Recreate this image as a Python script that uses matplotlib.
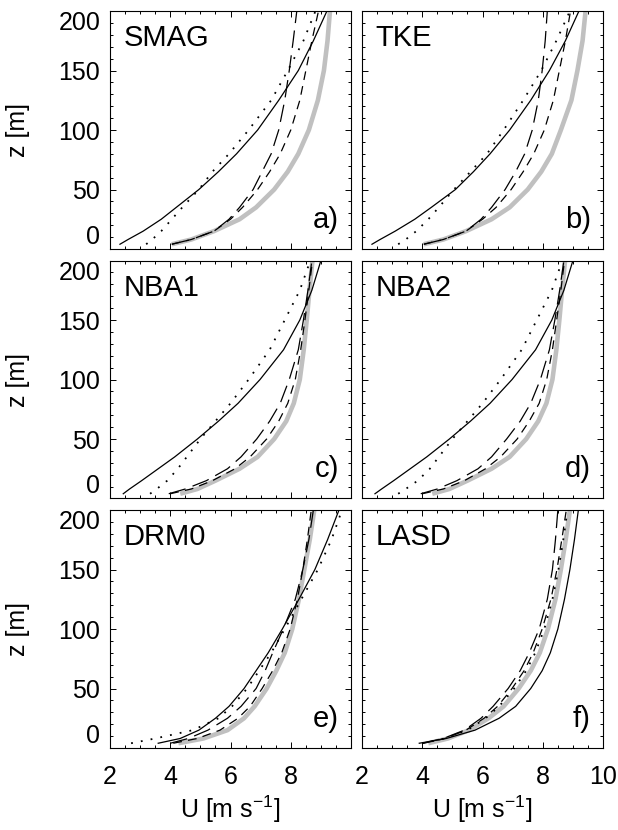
import numpy as np
import matplotlib
matplotlib.use("Agg")
from matplotlib import pyplot as plt

plt.rcParams['font.family'] = ['Liberation Sans', 'DejaVu Sans']
plt.rcParams['mathtext.fontset'] = 'custom'
plt.rcParams['mathtext.rm'] = 'Liberation Sans'

# 高度 (m)
z = [4, 8, 15, 25, 35, 50, 65, 80, 100, 125, 150, 175, 200]

# a) SMAG
smag_gray = [4.05, 4.7, 5.45, 6.3, 6.85, 7.45, 7.9, 8.25, 8.6, 8.9, 9.1, 9.22, 9.3]
smag_solid = [2.33, 2.6, 3.1, 3.7, 4.2, 4.95, 5.6, 6.2, 6.9, 7.6, 8.25, 8.75, 9.2]
smag_dot = [3.2, 3.4, 3.7, 4.05, 4.4, 4.95, 5.4, 5.95, 6.6, 7.35, 7.9, 8.42, 8.82]
smag_dash1 = [4.05, 4.7, 5.45, 5.95, 6.3, 6.75, 7.05, 7.35, 7.6, 7.8, 7.95, 8.08, 8.2]
smag_dash2 = [4.05, 4.7, 5.45, 6.0, 6.4, 6.9, 7.3, 7.65, 8.0, 8.3, 8.5, 8.7, 8.92]

# b) TKE
tke_gray = [4.05, 4.7, 5.45, 6.3, 6.9, 7.5, 7.95, 8.3, 8.6, 8.95, 9.15, 9.32, 9.42]
tke_solid = [2.33, 2.6, 3.1, 3.75, 4.3, 5.1, 5.7, 6.25, 6.9, 7.6, 8.22, 8.75, 9.2]
tke_dot = [3.2, 3.45, 3.8, 4.2, 4.55, 5.05, 5.6, 6.15, 6.7, 7.35, 7.95, 8.45, 8.9]
tke_dash1 = [4.05, 4.7, 5.45, 5.95, 6.3, 6.75, 7.1, 7.4, 7.65, 7.85, 7.98, 8.08, 8.15]
tke_dash2 = [4.05, 4.7, 5.45, 6.0, 6.45, 6.95, 7.35, 7.7, 8.05, 8.35, 8.55, 8.75, 8.92]

# c) NBA1
nba1_gray = [4.33, 4.9, 5.5, 6.3, 6.9, 7.45, 7.85, 8.1, 8.3, 8.43, 8.53, 8.62, 8.72]
nba1_solid = [2.44, 2.65, 3.05, 3.6, 4.15, 4.9, 5.6, 6.25, 6.98, 7.76, 8.3, 8.7, 9.0]
nba1_dot = [3.33, 3.55, 3.9, 4.25, 4.55, 5.0, 5.5, 6.0, 6.6, 7.3, 7.8, 8.3, 8.65]
nba1_dash1 = [3.95, 4.5, 5.2, 5.9, 6.35, 6.87, 7.3, 7.65, 7.95, 8.25, 8.42, 8.57, 8.7]
nba1_dash2 = [4.0, 4.7, 5.4, 6.15, 6.65, 7.2, 7.6, 7.9, 8.15, 8.33, 8.47, 8.6, 8.72]

# d) NBA2
nba2_gray = [4.33, 4.9, 5.5, 6.3, 6.9, 7.45, 7.85, 8.12, 8.32, 8.45, 8.55, 8.64, 8.74]
nba2_solid = [2.43, 2.65, 3.05, 3.6, 4.15, 4.9, 5.6, 6.25, 6.98, 7.76, 8.3, 8.7, 9.0]
nba2_dot = [3.2, 3.45, 3.85, 4.25, 4.55, 5.0, 5.5, 6.0, 6.6, 7.3, 7.8, 8.3, 8.65]
nba2_dash1 = [3.95, 4.5, 5.15, 5.85, 6.3, 6.8, 7.25, 7.6, 7.92, 8.22, 8.4, 8.56, 8.7]
nba2_dash2 = [4.0, 4.7, 5.4, 6.1, 6.6, 7.15, 7.55, 7.88, 8.13, 8.32, 8.46, 8.6, 8.72]

# e) DRM0
drm0_gray = [4.27, 5.1, 5.9, 6.45, 6.8, 7.2, 7.52, 7.8, 8.05, 8.27, 8.45, 8.63, 8.78]
drm0_solid = [3.6, 4.33, 4.95, 5.5, 5.95, 6.45, 6.85, 7.25, 7.72, 8.27, 8.8, 9.22, 9.6]
drm0_dot = [2.7, 3.5, 4.75, 5.6, 6.05, 6.55, 6.95, 7.35, 7.8, 8.35, 8.9, 9.35, 9.7]
drm0_dash1 = [4.0, 4.6, 5.25, 5.9, 6.35, 6.85, 7.15, 7.4, 7.75, 8.15, 8.4, 8.6, 8.75]
drm0_dash2 = [4.1, 4.9, 5.65, 6.25, 6.65, 7.05, 7.4, 7.7, 7.98, 8.22, 8.4, 8.55, 8.68]

# f) LASD
lasd_gray = [4.2, 4.85, 5.55, 6.2, 6.7, 7.2, 7.6, 7.9, 8.17, 8.42, 8.6, 8.76, 8.9]
lasd_solid = [3.9, 4.8, 5.75, 6.55, 7.1, 7.6, 7.98, 8.25, 8.5, 8.72, 8.9, 9.05, 9.18]
lasd_dot = [4.0, 4.75, 5.5, 6.1, 6.55, 7.05, 7.45, 7.75, 8.05, 8.32, 8.52, 8.68, 8.82]
lasd_dash1 = [4.0, 4.7, 5.4, 5.95, 6.35, 6.85, 7.25, 7.55, 7.88, 8.15, 8.32, 8.42, 8.5]
lasd_dash2 = [4.05, 4.75, 5.45, 6.05, 6.5, 6.98, 7.38, 7.68, 7.98, 8.27, 8.47, 8.63, 8.78]

names = ['SMAG', 'TKE', 'NBA1', 'NBA2', 'DRM0', 'LASD']
letters = ['a)', 'b)', 'c)', 'd)', 'e)', 'f)']
panels = [
    (smag_gray, smag_solid, smag_dot, smag_dash1, smag_dash2),
    (tke_gray, tke_solid, tke_dot, tke_dash1, tke_dash2),
    (nba1_gray, nba1_solid, nba1_dot, nba1_dash1, nba1_dash2),
    (nba2_gray, nba2_solid, nba2_dot, nba2_dash1, nba2_dash2),
    (drm0_gray, drm0_solid, drm0_dot, drm0_dash1, drm0_dash2),
    (lasd_gray, lasd_solid, lasd_dot, lasd_dash1, lasd_dash2),
]

fig = plt.figure(figsize=(6.18, 8.30), dpi=100)

lefts = [0.178, 0.5858]
bottoms = [0.70, 0.3994, 0.0988]
w, h = 0.39, 0.2867

for i in range(6):
    row, col = i // 2, i % 2
    ax = fig.add_axes([lefts[col], bottoms[row], w, h])
    gray, solid, dot, dash1, dash2 = panels[i]

    ax.plot(gray, z, color='#c0c0c0', lw=3.3, solid_capstyle='butt')
    ax.plot(solid, z, color='black', lw=0.9)
    ax.plot(dot, z, color='black', lw=1.3, dashes=(1, 4.5))
    ax.plot(dash1, z, color='black', lw=0.9, dashes=(14, 6))
    ax.plot(dash2, z, color='black', lw=0.9, dashes=(7, 5))

    ax.set_xlim(2, 10)
    ax.set_ylim(0, 200)
    ax.set_xticks([2, 4, 6, 8, 10])
    ax.set_xticks(np.arange(2, 10.01, 0.5), minor=True)
    ax.set_yticks([0, 50, 100, 150, 200])
    ax.set_yticks(np.arange(0, 201, 10), minor=True)
    ax.tick_params(which='both', direction='in', top=True, right=True,
                   width=0.7, labelsize=18)
    ax.tick_params(which='major', length=4)
    ax.tick_params(which='minor', length=2)
    ax.tick_params(axis='x', pad=12)
    ax.tick_params(axis='y', pad=7)
    for s in ax.spines.values():
        s.set_linewidth(0.8)

    if row < 2:
        ax.set_xticklabels([])
    else:
        if col == 0:
            ax.set_xticklabels(['2', '4', '6', '8', ''])
        ax.set_xlabel('U [m s$^{-1}$]', fontsize=18)
        ax.xaxis.set_label_coords(0.5, -0.19)

    if col == 1:
        ax.set_yticklabels([])
    else:
        labs = ax.get_yticklabels()
        labs[0].set_verticalalignment('bottom')
        labs[-1].set_verticalalignment('top')
        ax.set_ylabel('z [m]', fontsize=18)
        ax.yaxis.set_label_coords(-0.33, 0.5)

    ax.text(0.055, 0.945, names[i], transform=ax.transAxes, fontsize=21,
            ha='left', va='top')
    ax.text(0.95, 0.09, letters[i], transform=ax.transAxes, fontsize=21,
            ha='right', va='baseline')

plt.savefig('out.png', dpi=100)
